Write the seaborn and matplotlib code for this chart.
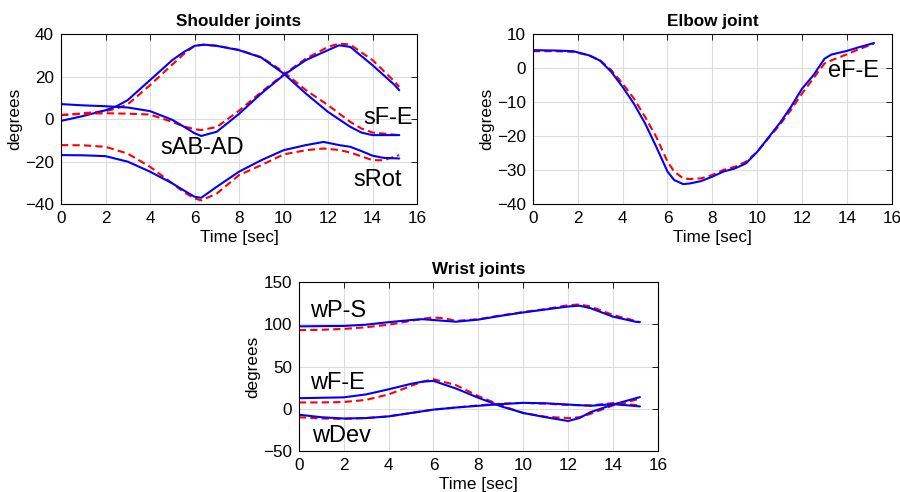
import matplotlib
matplotlib.use("Agg")
import matplotlib.pyplot as plt
import seaborn as sns

# ---- Shoulder joints (blue = measured, red dashed = estimated) ----
t_sfe = [0, 1, 2, 2.5, 3, 4, 5, 5.5, 6, 6.4, 7, 8, 9, 10, 11, 12, 13, 13.5, 14, 15, 15.2]
sfe_meas = [-0.8, 1.5, 4.2, 6.1, 9.0, 18.4, 27.8, 31.5, 34.5, 35.1, 34.5, 32.5, 29.0, 21.5, 12.1, 3.4, -3.6, -6.3, -7.5, -7.5, -7.5]
sfe_est = [1.9, 2.8, 3.8, 5.0, 7.0, 16.0, 25.7, 30.5, 34.5, 35.0, 34.6, 32.6, 29.2, 22.3, 13.7, 6.6, -1.3, -4.4, -6.3, -7.3, -7.5]

t_sab = [0, 1, 2, 3, 4, 5, 5.5, 6, 6.3, 7, 8, 9, 10, 11, 12, 12.5, 13, 14, 15, 15.2]
sab_meas = [7.1, 6.5, 6.1, 5.5, 3.8, -0.3, -3.4, -6.6, -7.9, -5.9, 2.5, 12.1, 20.7, 27.8, 32.5, 34.8, 34.0, 25.4, 16.0, 13.6]
sab_est = [2.0, 2.5, 2.8, 2.6, 2.2, -1.3, -3.3, -4.7, -5.1, -3.7, 4.0, 12.8, 21.0, 28.5, 34.0, 35.6, 35.1, 27.8, 17.6, 15.2]

t_srot = [0, 1, 2, 3, 4, 5, 5.5, 6, 6.3, 7, 8, 9, 10, 11, 11.8, 12.5, 13, 13.5, 14, 14.5, 15.2]
srot_meas = [-16.9, -17.0, -17.4, -20.0, -24.7, -30.2, -33.4, -36.5, -37.0, -31.8, -24.7, -19.3, -14.6, -12.2, -10.7, -12.2, -13.0, -15.0, -17.2, -18.2, -18.5]
srot_est = [-12.2, -12.3, -13.0, -16.2, -22.4, -30.2, -34.2, -37.3, -38.2, -35.0, -26.3, -21.6, -16.6, -14.6, -13.8, -14.5, -15.7, -17.5, -19.3, -19.3, -16.9]

# ---- Elbow joint ----
t_elb = [0, 1, 1.8, 2.5, 3, 3.5, 4, 4.5, 5, 5.5, 6, 6.3, 6.7, 7, 7.5, 8, 8.5, 9, 9.5, 10, 10.5, 11, 11.5, 12, 12.5, 13, 13.3, 14, 14.5, 15.2]
efe_meas = [5.3, 5.2, 5.0, 3.8, 2.2, -1.1, -5.5, -10.4, -16.2, -23.1, -30.4, -32.9, -34.1, -33.9, -33.2, -31.9, -30.4, -29.5, -28.0, -24.6, -20.4, -16.2, -11.4, -6.0, -2.1, 2.8, 4.0, 5.1, 6.1, 7.4]
efe_est = [5.0, 5.0, 4.8, 3.8, 2.3, -0.6, -4.5, -8.9, -14.3, -20.2, -27.5, -30.4, -32.4, -32.6, -32.4, -31.4, -29.9, -29.0, -27.5, -24.6, -20.6, -16.7, -12.3, -7.4, -3.0, 1.4, 2.3, 4.1, 5.5, 7.2]

# ---- Wrist joints ----
t_wps = [0, 1, 2, 3, 4, 5, 5.5, 6, 6.5, 7, 8, 9, 10, 11, 12, 12.5, 13, 14, 15, 15.2]
wps_meas = [97.5, 97.8, 98.0, 99.5, 102.5, 105.0, 106.0, 105.0, 104.0, 103.0, 105.5, 110.0, 114.0, 117.5, 121.0, 122.0, 119.0, 109.0, 103.0, 102.5]
wps_est = [93.0, 93.5, 94.5, 96.5, 99.5, 104.0, 106.5, 108.0, 107.0, 104.0, 106.0, 110.5, 114.5, 118.0, 122.5, 123.5, 121.0, 111.0, 104.0, 102.5]

t_wfe = [0, 1, 2, 3, 4, 5, 5.5, 6, 7, 8, 9, 10, 11, 12, 12.5, 13, 14, 15.2]
wfe_meas = [12.5, 13.0, 13.5, 17.0, 23.0, 29.5, 32.0, 33.0, 24.0, 13.0, 3.0, -5.0, -10.0, -14.5, -11.0, -4.0, 5.0, 13.8]
wfe_est = [7.5, 7.5, 8.0, 10.5, 17.0, 27.0, 32.0, 35.0, 28.0, 15.0, 4.0, -5.0, -9.5, -11.0, -10.0, -6.0, 4.0, 11.9]

t_wdev = [0, 1, 2, 3, 4, 5, 6, 7, 8, 9, 10, 11, 12, 13, 14, 15.2]
wdev_meas = [-7.0, -10.0, -11.5, -11.0, -9.0, -5.0, -1.0, 1.5, 3.5, 5.5, 7.0, 6.5, 5.0, 3.5, 5.5, 2.8]
wdev_est = [-10.0, -11.5, -12.0, -11.0, -9.0, -5.0, -1.0, 1.5, 4.0, 6.0, 7.0, 6.0, 4.5, 4.0, 6.7, 4.0]

sns.set_style("whitegrid", {"grid.color": "#dcdcdc", "axes.edgecolor": "black",
                            "text.color": "black", "axes.labelcolor": "black",
                            "xtick.color": "black", "ytick.color": "black"})
plt.rcParams["font.family"] = ["Liberation Sans", "DejaVu Sans"]

fig = plt.figure(figsize=(9, 4.92), dpi=100)
ax_s = fig.add_axes([0.0678, 0.585, 0.3956, 0.3455])
ax_e = fig.add_axes([0.592, 0.585, 0.399, 0.3455])
ax_w = fig.add_axes([0.332, 0.0833, 0.399, 0.3435])

LW = 1.5


def draw_pair(ax, t, meas, est):
    sns.lineplot(x=t, y=est, ax=ax, color="red", linewidth=LW)
    ax.lines[-1].set_dashes((3.5, 2))
    sns.lineplot(x=t, y=meas, ax=ax, color="blue", linewidth=LW)


def style(ax, title, ylim, yticks):
    ax.set_xlim(0, 16)
    ax.set_xticks(range(0, 17, 2))
    ax.set_ylim(*ylim)
    ax.set_yticks(yticks)
    ax.set_title(title, fontsize=12.3, fontweight="bold", pad=6, color="black")
    ax.set_xlabel("Time [sec]", fontsize=12.3, labelpad=3, color="black")
    ax.set_ylabel("degrees", fontsize=12.3, labelpad=2, color="black")
    ax.tick_params(direction="in", top=True, right=True, length=4, width=0.6,
                   labelsize=12.3, pad=5, color="black", labelcolor="black")
    for sp in ax.spines.values():
        sp.set_color("black")
        sp.set_linewidth(0.8)
    ax.grid(True, color="#dcdcdc", linewidth=0.8)


draw_pair(ax_s, t_sfe, sfe_meas, sfe_est)
draw_pair(ax_s, t_sab, sab_meas, sab_est)
draw_pair(ax_s, t_srot, srot_meas, srot_est)
style(ax_s, "Shoulder joints", (-40, 40), range(-40, 41, 20))
ax_s.text(13.6, 0.5, "sF-E", fontsize=17, va="center", color="black")
ax_s.text(4.45, -13.6, "sAB-AD", fontsize=17, va="center", color="black")
ax_s.text(13.15, -28.5, "sRot", fontsize=17, va="center", color="black")

draw_pair(ax_e, t_elb, efe_meas, efe_est)
style(ax_e, "Elbow joint", (-40, 10), range(-40, 11, 10))
ax_e.text(13.15, -0.8, "eF-E", fontsize=17, va="center", color="black")

draw_pair(ax_w, t_wps, wps_meas, wps_est)
draw_pair(ax_w, t_wfe, wfe_meas, wfe_est)
draw_pair(ax_w, t_wdev, wdev_meas, wdev_est)
style(ax_w, "Wrist joints", (-50, 150), range(-50, 151, 50))
ax_w.text(0.5, 115.8, "wP-S", fontsize=17, va="center", color="black")
ax_w.text(0.5, 30.4, "wF-E", fontsize=17, va="center", color="black")
ax_w.text(0.6, -32.8, "wDev", fontsize=17, va="center", color="black")

fig.savefig("out.png", dpi=100)
